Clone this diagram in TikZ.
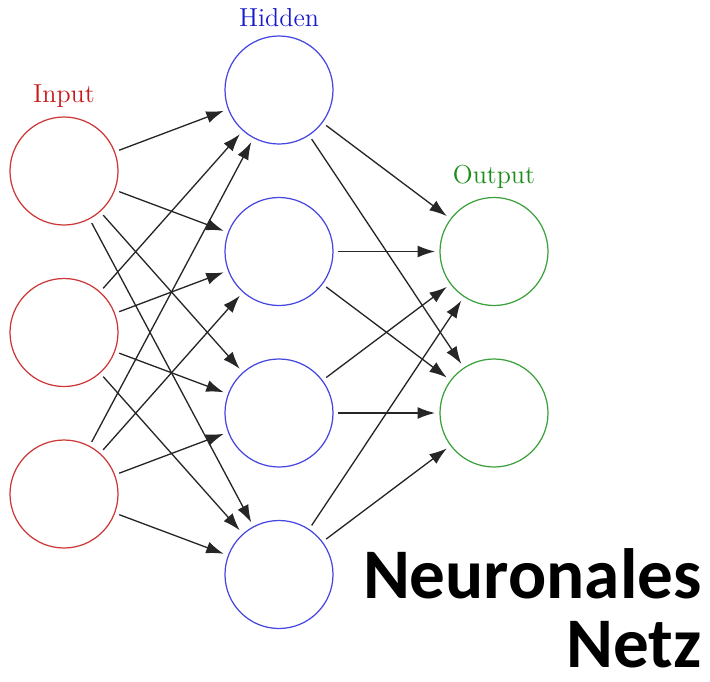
\documentclass[tikz,border=0pt]{standalone}
\usepackage{fontspec}
\newfontfamily\netzfont{Carlito}
\usetikzlibrary{arrows.meta}
\definecolor{inred}{RGB}{205,55,55}
\definecolor{inredtext}{RGB}{200,25,25}
\definecolor{hidblue}{RGB}{70,70,225}
\definecolor{hidbluetext}{RGB}{25,25,205}
\definecolor{outgreen}{RGB}{60,160,60}
\definecolor{outgreentext}{RGB}{25,140,25}
\begin{document}
\begin{tikzpicture}[
  neuron/.style={circle,minimum size=2.16cm,inner sep=0pt,outer sep=0.1cm,line width=0.7pt},
  layerlabel/.style={anchor=south,inner sep=0.08cm,font=\fontsize{14.8}{17}\selectfont},
  conn/.style={-{Latex[length=3.5mm,width=2.4mm]},line width=0.75pt,draw=black!85},
  titletext/.style={anchor=base east,inner sep=0pt,text depth=0pt,font=\netzfont\bfseries\fontsize{40.5}{40}\selectfont}]
  \useasboundingbox (0,0) rectangle (14.2,-13.62);
  % layers
  \foreach \i in {1,2,3}
    \node[neuron,draw=inred] (I-\i) at (1.28,-3.42-3.23*\i+3.23) {};
  \foreach \h in {1,...,4}
    \node[neuron,draw=hidblue] (H-\h) at (5.58,-1.8-3.23*\h+3.23) {};
  \foreach \o in {1,2}
    \node[neuron,draw=outgreen] (O-\o) at (9.88,-5.03-3.23*\o+3.23) {};
  \node[layerlabel,text=inredtext] (lbl-I) at (I-1.north) {Input};
  \node[layerlabel,text=hidbluetext] (lbl-H) at (H-1.north) {Hidden};
  \node[layerlabel,text=outgreentext] (lbl-O) at (O-1.north) {Output};
  % connections
  \foreach \i in {1,2,3}
    \foreach \h in {1,...,4}
      \draw[conn] (I-\i) -- (H-\h);
  \foreach \h in {1,...,4}
    \foreach \o in {1,2}
      \draw[conn] (H-\h) -- (O-\o);
  \node[titletext] (title-a) at (14.04,-11.96) {Neuronales};
  \node[titletext] (title-b) at (14.04,-13.34) {Netz};
\end{tikzpicture}
\end{document}
